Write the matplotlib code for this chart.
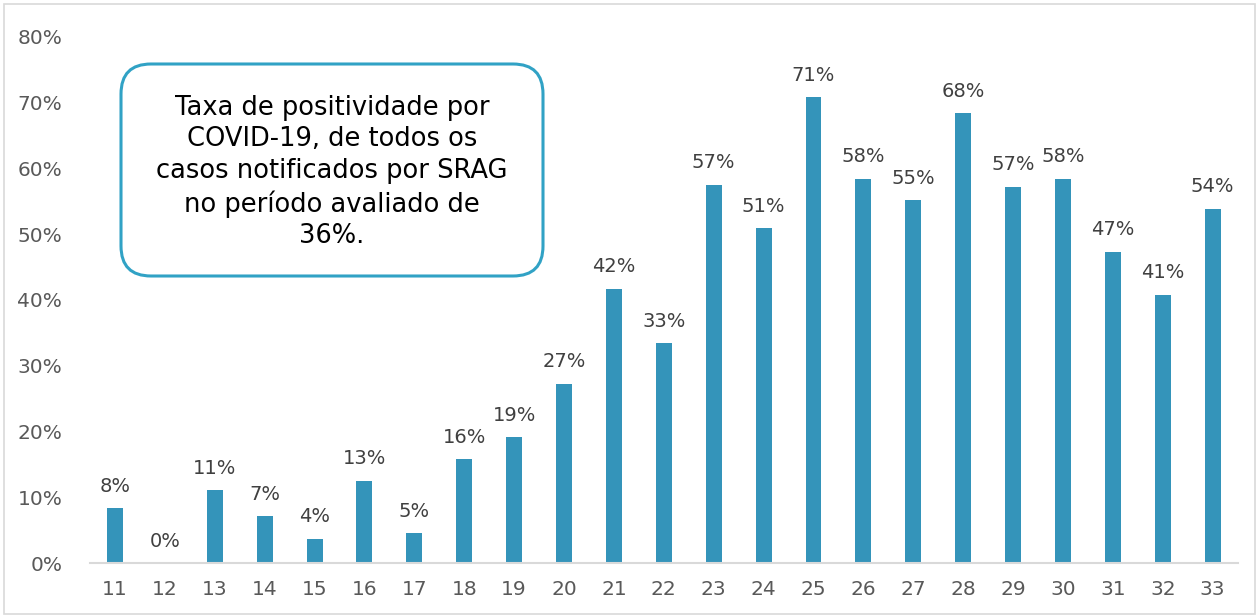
import matplotlib
matplotlib.use('Agg')
import matplotlib.pyplot as plt
from matplotlib.patches import FancyBboxPatch, Rectangle
from matplotlib.transforms import IdentityTransform
from matplotlib.ticker import FuncFormatter

plt.rcParams['font.family'] = ['DejaVu Sans']

# semanas epidemiologicas e taxa de positividade (%)
weeks = ['11', '12', '13', '14', '15', '16', '17', '18', '19', '20', '21', '22',
         '23', '24', '25', '26', '27', '28', '29', '30', '31', '32', '33']
positivity = [8.3, 0.0, 11.1, 7.1, 3.7, 12.5, 4.5, 15.8, 19.1, 27.3, 41.7, 33.4,
              57.5, 50.9, 70.8, 58.4, 55.2, 68.4, 57.2, 58.4, 47.3, 40.8, 53.9]
labels = ['8%', '0%', '11%', '7%', '4%', '13%', '5%', '16%', '19%', '27%', '42%', '33%',
          '57%', '51%', '71%', '58%', '55%', '68%', '57%', '58%', '47%', '41%', '54%']
note = ('Taxa de positividade por\nCOVID-19, de todos os\ncasos notificados por SRAG\n'
        'no período avaliado de\n36%.')

fig = plt.figure(figsize=(12.59, 6.16), dpi=100)
ax = fig.add_axes([0.0715, 0.086, 0.9115, 0.854])

x = range(len(weeks))
bars = ax.bar(x, positivity, width=0.32, color='#3494BA')
ax.bar_label(bars, labels=labels, padding=9, fontsize=14, color='#404040')

ax.set_xlim(-0.5, len(weeks) - 0.5)
ax.set_ylim(0, 80)
ax.set_yticks(range(0, 81, 10))
ax.yaxis.set_major_formatter(FuncFormatter(lambda v, p: '%d%%' % v))
ax.set_xticks(list(x))
ax.set_xticklabels(weeks)
ax.tick_params(axis='both', length=0, labelsize=14.5, labelcolor='#595959')
ax.tick_params(axis='x', pad=12)
ax.tick_params(axis='y', pad=20)

for s in ['top', 'right', 'left']:
    ax.spines[s].set_visible(False)
ax.spines['bottom'].set_color('#D9D9D9')
ax.spines['bottom'].set_linewidth(1.5)

# caixa de texto
box = FancyBboxPatch((121, 616 - 276), 422, 212,
                     boxstyle='round,pad=0,rounding_size=30',
                     transform=IdentityTransform(), facecolor='white',
                     edgecolor='#31A2C5', linewidth=2.2)
fig.add_artist(box)
fig.text(332 / 1259, 1 - 172 / 616, note, ha='center', va='center',
         fontsize=18.5, color='black', linespacing=1.28)

# moldura do grafico
fig.add_artist(Rectangle((0.003, 0.003), 0.994, 0.99, transform=fig.transFigure,
                         fill=False, edgecolor='#D9D9D9', linewidth=1.2))

fig.savefig('out.png', dpi=100)
